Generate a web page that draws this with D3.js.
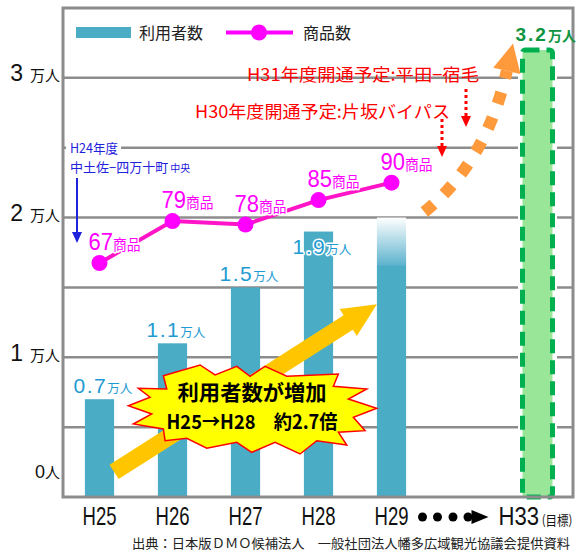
<!DOCTYPE html>
<html><head><meta charset="utf-8">
<script src="https://cdn.jsdelivr.net/npm/d3@7"></script>
<style>
html,body{margin:0;padding:0;background:#fff;}
svg{display:block;font-family:"Noto Sans CJK JP","Liberation Sans",sans-serif;}
</style></head><body>
<svg id="chart" width="583" height="559"></svg>
<script>
// 年度の枠（"gap" は H30〜H32 を省略した空き枠）
const slots = ["H25", "H26", "H27", "H28", "H29", "gap", "H33"];
const years = ["H25", "H26", "H27", "H28", "H29"];
const xTickLabels = ["H25", "H26", "H27", "H28", "H29", "H33"];
// 利用者数（万人）
const users = [0.7, 1.1, 1.5, 1.9, 1.66];
const userLabels = ["0.7", "1.1", "1.5", "1.9", null];
const usersH29Outlook = 2.0;   // H29 見込み
const targetYear = "H33";
const targetUsers = 3.2;       // 目標
const targetLabel = "3.2";
// 商品数
const products = [67, 79, 78, 85, 90];
// 縦軸
const yTicks = [0, 1, 2, 3];
const gridValues = [0.5, 1, 1.5, 2, 2.5, 3];

const svg = d3.select("#chart");
const L = 63, R = 573, T = 8, B = 497;
const BAR = "#4bacc6", GRID = "#8c8c8c", MAG = "#ff00ff", LBLUE = "#1e9bd2";
const NUM = "Liberation Sans";

const x = d3.scaleBand().domain(slots).range([L, R + 1]).paddingInner(0.6).paddingOuter(0.3);
const xc = k => x(k) + x.bandwidth() / 2;
const step = x.step();
const y = d3.scaleLinear().domain([0, 3.5]).range([B, T]);
const y2 = d3.scaleLinear().domain([0, 140]).range([B, T]);

const halo = sel => sel.attr("stroke", "#fff").attr("stroke-width", 3)
  .attr("paint-order", "stroke").attr("stroke-linejoin", "round");

// 目盛線
svg.append("g").selectAll("line").data(gridValues).join("line")
  .attr("x1", L).attr("x2", R).attr("y1", d => y(d)).attr("y2", d => y(d))
  .attr("stroke", GRID).attr("stroke-width", 2.5);

// 利用者数の棒
const barData = years.map((k, i) => ({ k, v: users[i], label: userLabels[i], p: products[i] }));
svg.append("g").selectAll("rect").data(barData).join("rect")
  .attr("x", d => x(d.k)).attr("width", x.bandwidth())
  .attr("y", d => y(d.v)).attr("height", d => B - y(d.v)).attr("fill", BAR);

// H29 見込み（上に向かって薄くなる）
const defs = svg.append("defs");
const grad = defs.append("linearGradient").attr("id", "outlook")
  .attr("x1", 0).attr("y1", 1).attr("x2", 0).attr("y2", 0);
grad.append("stop").attr("offset", "0%").attr("stop-color", "#5eb3ce");
grad.append("stop").attr("offset", "100%").attr("stop-color", "#ffffff");
svg.append("rect").attr("x", x("H29")).attr("width", x.bandwidth())
  .attr("y", y(usersH29Outlook)).attr("height", y(users[4]) - y(usersH29Outlook))
  .attr("fill", "url(#outlook)");

// 目標の棒（点線枠）
const tw = 30;
svg.append("rect").attr("x", xc(targetYear) - tw / 2).attr("width", tw)
  .attr("y", y(targetUsers)).attr("height", B - y(targetUsers))
  .attr("fill", "#fff").attr("stroke", "#fff").attr("stroke-width", 9);
svg.append("rect").attr("x", xc(targetYear) - tw / 2).attr("width", tw)
  .attr("y", y(targetUsers)).attr("height", B - y(targetUsers)).attr("rx", 3)
  .attr("fill", "#99e699").attr("stroke", "#00b050").attr("stroke-width", 5)
  .attr("stroke-dasharray", "14,7");

// 枠
svg.append("rect").attr("x", L).attr("y", T).attr("width", R - L).attr("height", B - T)
  .attr("fill", "none").attr("stroke", GRID).attr("stroke-width", 3);

// 増加を示す黄色の矢印
(function () {
  const x0 = xc("H25") + 0.2 * step, y0 = y(0.18);
  const x1 = xc("H29") - 0.2 * step, y1 = y(1.38);
  const len = Math.hypot(x1 - x0, y1 - y0);
  const ang = Math.atan2(y1 - y0, x1 - x0) * 180 / Math.PI;
  const hl = 34, hw = 16, sw = 8.5;
  const pts = [[0, -sw], [len - hl, -sw], [len - hl, -hw], [len, 0], [len - hl, hw], [len - hl, sw], [0, sw]];
  svg.append("polygon").attr("points", pts.map(p => p.join(",")).join(" "))
    .attr("transform", `translate(${x0},${y0}) rotate(${ang})`).attr("fill", "#ffc600");
})();

// 商品数の折れ線
const line = d3.line().x((d, i) => xc(years[i])).y(d => y2(d));
svg.append("path").datum(products).attr("d", line)
  .attr("fill", "none").attr("stroke", "#ff14c8").attr("stroke-width", 4);
svg.append("g").selectAll("circle").data(products).join("circle")
  .attr("cx", (d, i) => xc(years[i])).attr("cy", d => y2(d)).attr("r", 8).attr("fill", MAG);

// 商品数ラベル
const pl = svg.append("g").selectAll("text").data(barData).join("text")
  .attr("x", d => xc(d.k) - 11).attr("y", d => y2(d.p) - 13).attr("fill", MAG)
  .attr("textLength", 52).attr("lengthAdjust", "spacingAndGlyphs").call(halo);
pl.append("tspan").attr("font-family", NUM).attr("font-size", 24).text(d => d.p);
pl.append("tspan").attr("font-size", 15).text("商品");

// 利用者数ラベル
const ul = svg.append("g").selectAll("text").data(barData.filter(d => d.label)).join("text")
  .attr("x", d => xc(d.k) - 26)
  .attr("y", d => {
    const inside = y(d.v) - 26 < y2(d.p) + 10;
    return inside ? y(d.v) + 22 : y(d.v) - 6;
  })
  .attr("fill", LBLUE).call(halo);
ul.append("tspan").attr("font-family", NUM).attr("font-size", 21).attr("letter-spacing", 1.5).text(d => d.label);
ul.append("tspan").attr("font-size", 12.5).text("万人");

// 目標ラベル
const tl = svg.append("text").attr("x", xc(targetYear) - 22).attr("y", y(targetUsers) - 9)
  .attr("fill", "#0e9440").attr("font-weight", "bold");
tl.append("tspan").attr("font-family", NUM).attr("font-size", 19).attr("letter-spacing", 2).text(targetLabel);
tl.append("tspan").attr("font-size", 14).text("万人");

// 吹き出し（爆発形）
(function () {
  const cx = xc("H26") + 1.09 * step, cy = y(0.63);
  const burst = [[-88.7, -33.3], [-52, -44], [-37, -34], [-15.3, -42.7], [-2, -32.7], [13, -42.7],
    [34.7, -32.7], [86.3, -35], [81.3, -22.7], [114.7, -20], [96.3, -10], [124.7, -0.7],
    [101.3, 8.3], [113, 21.7], [86.3, 23.3], [94.7, 36], [64.7, 31.7], [48, 45], [23, 33.3],
    [-0.3, 43.3], [-15.3, 33.3], [-45.3, 39.3], [-65.3, 29.3], [-87, 31.7], [-88.7, 20],
    [-118.7, 15], [-100.3, 5], [-123.7, -3.3], [-102, -11.7], [-113.7, -20.7], [-85.3, -20]];
  const g = svg.append("g").attr("transform", `translate(${cx},${cy})`);
  g.append("polygon").attr("points", burst.map(p => p.join(",")).join(" "))
    .attr("fill", "#ffff00").attr("stroke", "#ff0000").attr("stroke-width", 1.5);
  const t = g.append("text").attr("text-anchor", "middle").attr("font-weight", "bold").attr("fill", "#000");
  t.append("tspan").attr("x", 0).attr("y", -9).attr("font-size", 21)
    .attr("textLength", 149).attr("lengthAdjust", "spacingAndGlyphs").text("利用者数が増加");
  t.append("tspan").attr("x", 0).attr("y", 20).attr("font-size", 19.5)
    .attr("textLength", 171).attr("lengthAdjust", "spacingAndGlyphs").text("H25→H28　約2.7倍");
})();

// 目標へ向かう橙色の点線矢印
(function () {
  const sx = xc("H29") + 0.45 * step, sy = y(2.04);
  const qx = xc("H29") + 1.30 * step, qy = y(2.4);
  const ex = xc("H29") + 1.58 * step, ey = y(3.05);
  svg.append("path").attr("d", `M${sx},${sy} Q${qx},${qy} ${ex},${ey}`)
    .attr("fill", "none").attr("stroke", "#ff9a3c").attr("stroke-width", 12)
    .attr("stroke-dasharray", "12,14.5");
  const dx = ex - qx, dy = ey - qy, n = Math.hypot(dx, dy);
  const ux = dx / n, uy = dy / n, px = -uy, py = ux;
  const hl = 28, hw = 14;
  const head = [[ex + ux * hl, ey + uy * hl], [ex + px * hw, ey + py * hw], [ex - px * hw, ey - py * hw]];
  svg.append("polygon").attr("points", head.map(p => p.join(",")).join(" ")).attr("fill", "#ff9a3c");
})();

// 道路開通予定の注記
const red = "#ff0000";
svg.append("text").attr("x", 247).attr("y", 81).attr("font-size", 17.5).attr("fill", red)
  .attr("textLength", 232).attr("lengthAdjust", "spacingAndGlyphs").text("H31年度開通予定:平田−宿毛");
svg.append("text").attr("x", 195).attr("y", 118).attr("font-size", 17.5).attr("fill", red)
  .attr("textLength", 255).attr("lengthAdjust", "spacingAndGlyphs").text("H30年度開通予定:片坂バイパス");
function dotArrow(ax, y0, y1, color, dash, w) {
  svg.append("line").attr("x1", ax).attr("x2", ax).attr("y1", y0).attr("y2", y1 - 9)
    .attr("stroke", color).attr("stroke-width", w).attr("stroke-dasharray", dash);
  svg.append("polygon").attr("points", `${ax - 5},${y1 - 11} ${ax + 5},${y1 - 11} ${ax},${y1}`).attr("fill", color);
}
dotArrow(466, 89, 127, red, "3,3", 3);
dotArrow(442, 119, 157, red, "3,3", 3);

// H24年度 開通の注記
svg.append("rect").attr("x", 66).attr("y", 140).attr("width", 55).attr("height", 14).attr("fill", "#fff");
const blue = "#1f22dc";
const bt = svg.append("text").attr("fill", blue);
bt.append("tspan").attr("x", 70).attr("y", 152.5).attr("font-size", 13)
  .attr("textLength", 48).attr("lengthAdjust", "spacingAndGlyphs").text("H24年度");
bt.append("tspan").attr("x", 70).attr("y", 172).attr("font-size", 13).text("中土佐−四万十町");
bt.append("tspan").attr("font-size", 10).attr("dx", 2).text("中央");
dotArrow(77, 178, 243, blue, null, 2);

// 縦軸
const yAxis = svg.append("g").attr("transform", `translate(${L},0)`)
  .call(d3.axisLeft(y).tickValues(yTicks).tickSize(0).tickPadding(3));
yAxis.select(".domain").remove();
yAxis.selectAll(".tick text").each(function (d) {
  const t = d3.select(this).text("").attr("fill", "#111").attr("font-family", NUM)
    .attr("dy", d === 0 ? -20 : 3);
  if (d === 0) {
    t.append("tspan").attr("font-size", 18).text("0");
    t.append("tspan").attr("font-size", 15).attr("font-family", "Noto Sans CJK JP").text("人");
  } else {
    t.append("tspan").attr("font-size", 23).text(d);
    t.append("tspan").attr("font-size", 15).attr("dx", 7).attr("font-family", "Noto Sans CJK JP").text("万人");
  }
});

// 横軸
const xAxis = svg.append("g").attr("transform", `translate(0,${B})`)
  .call(d3.axisBottom(x).tickValues(xTickLabels).tickSize(0));
xAxis.select(".domain").remove();
xAxis.selectAll(".tick text").each(function (d) {
  const t = d3.select(this).attr("y", 28).attr("dy", 0).attr("fill", "#111")
    .attr("font-family", NUM).attr("font-size", 25).attr("lengthAdjust", "spacingAndGlyphs");
  if (d === targetYear) {
    t.text("").attr("textLength", 74).attr("x", -2);
    t.append("tspan").text(d);
    t.append("tspan").attr("font-size", 13).attr("font-family", "Noto Sans CJK JP").attr("dx", 3).text("(目標)");
  } else {
    t.attr("textLength", 34);
  }
});

// 省略を示す点と矢印
const gc = xc("gap");
svg.append("g").selectAll("circle").data([-42, -27, -11.5, 3.5]).join("circle")
  .attr("cx", d => gc + d).attr("cy", B + 20).attr("r", 4.5).attr("fill", "#000");
svg.append("polygon").attr("points", `${gc + 7},${B + 13} ${gc + 7},${B + 27} ${gc + 24},${B + 20}`).attr("fill", "#000");

// 凡例
svg.append("rect").attr("x", 76).attr("y", 27).attr("width", 55).attr("height", 11).attr("fill", BAR);
svg.append("text").attr("x", 139).attr("y", 39).attr("font-size", 16).attr("fill", "#222").text("利用者数");
svg.append("line").attr("x1", 226).attr("x2", 293).attr("y1", 32.5).attr("y2", 32.5)
  .attr("stroke", MAG).attr("stroke-width", 4);
svg.append("circle").attr("cx", 259).attr("cy", 32.5).attr("r", 8).attr("fill", MAG);
svg.append("text").attr("x", 303).attr("y", 39).attr("font-size", 16).attr("fill", "#222").text("商品数");

// 出典
svg.append("text").attr("x", 132).attr("y", 548).attr("font-size", 13).attr("fill", "#222")
  .attr("textLength", 438).attr("lengthAdjust", "spacingAndGlyphs")
  .text("出典：日本版ＤＭＯ候補法人　一般社団法人幡多広域観光協議会提供資料");
</script>
</body></html>
